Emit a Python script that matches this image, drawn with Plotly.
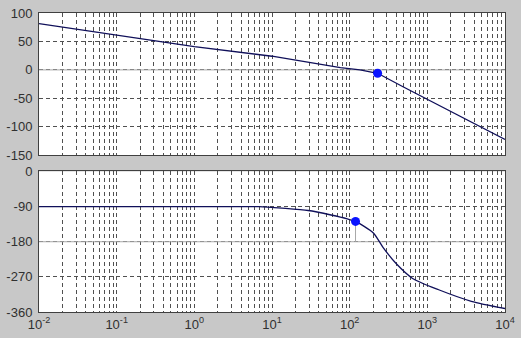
import plotly.graph_objects as go

# ---- data ----
mag_freq = [0.01, 0.1, 1, 10, 30, 76, 136, 229, 500, 1000, 3000, 10000]
mag_db = [81.5, 61, 41, 24, 13.5, 4, 0, -6, -30.5, -51.6, -85, -122.4]

phase_freq = [0.01, 0.1, 1, 4, 6.85, 13.5, 29.3, 57.5, 93.5, 119, 202, 270, 399, 646, 1400, 3690, 10000]
phase_deg = [-90, -90, -90, -90, -90, -94, -100, -111.5, -121.5, -128, -157.5, -195, -236.5, -274, -303, -332.5, -351]

gain_cross_freq = [229]
gain_cross_db = [-6]
phase_mark_freq = [119]
phase_mark_deg = [-128]

x_range_log = [-2, 4]
x_exponents = [-2, -1, 0, 1, 2, 3, 4]
mag_ticks = [-150, -100, -50, 0, 50, 100]
phase_ticks = [-360, -270, -180, -90, 0]

major_x = [10.0 ** d for d in x_exponents]
x_ticktext = ["10<sup>%d</sup>" % d for d in x_exponents]
minor_x = [k * 10.0 ** d for d in x_exponents[:-1] for k in range(2, 10)]

line_col = "#10105a"
grid_col = "#505050"
mark_col = "#0a14ff"
ref_col = "#a8a8a8"

fig = go.Figure()

# reference lines (0 dB, -180 deg)
fig.add_trace(go.Scatter(x=[major_x[0], major_x[-1]], y=[0, 0], mode="lines",
                         line=dict(color=ref_col, width=1), xaxis="x", yaxis="y",
                         hoverinfo="skip", showlegend=False))
fig.add_trace(go.Scatter(x=[major_x[0], major_x[-1]], y=[-180, -180], mode="lines",
                         line=dict(color=ref_col, width=1), xaxis="x2", yaxis="y2",
                         hoverinfo="skip", showlegend=False))
# phase margin vertical line
fig.add_trace(go.Scatter(x=[phase_mark_freq[0], phase_mark_freq[0]], y=[-180, phase_mark_deg[0]],
                         mode="lines", line=dict(color=ref_col, width=1), xaxis="x2", yaxis="y2",
                         hoverinfo="skip", showlegend=False))

fig.add_trace(go.Scatter(x=mag_freq, y=mag_db, mode="lines", line=dict(color=line_col, width=1.3),
                         xaxis="x", yaxis="y", showlegend=False))
fig.add_trace(go.Scatter(x=phase_freq, y=phase_deg, mode="lines",
                         line=dict(color=line_col, width=1.3, shape="spline", smoothing=0.7),
                         xaxis="x2", yaxis="y2", showlegend=False))
fig.add_trace(go.Scatter(x=gain_cross_freq, y=gain_cross_db, mode="markers",
                         marker=dict(color=mark_col, size=9), xaxis="x", yaxis="y", showlegend=False))
fig.add_trace(go.Scatter(x=phase_mark_freq, y=phase_mark_deg, mode="markers",
                         marker=dict(color=mark_col, size=9), xaxis="x2", yaxis="y2", showlegend=False))

font = dict(family="Liberation Sans, Arial, sans-serif", size=13, color="#303030")

def xaxis_cfg(anchor, show_labels):
    return dict(type="log", range=x_range_log, anchor=anchor,
                tickmode="array", tickvals=major_x, ticktext=x_ticktext,
                showticklabels=show_labels, ticks="", tickfont=font,
                ticklabeloverflow="allow",
                showgrid=True, gridcolor=grid_col, griddash="4px,3px", gridwidth=1,
                minor=dict(tickmode="array", tickvals=minor_x, showgrid=True,
                           gridcolor=grid_col, griddash="4px,3px", gridwidth=1, ticks=""),
                showline=True, mirror=True, linecolor="#404040", linewidth=1,
                zeroline=False)

def yaxis_cfg(anchor, rng, ticks, domain):
    return dict(range=rng, anchor=anchor, domain=domain, tickmode="array", tickvals=ticks,
                ticktext=[str(t) for t in ticks],
                ticks="", tickfont=font, showgrid=True, gridcolor=grid_col,
                griddash="4px,3px", gridwidth=1, showline=True, mirror=True,
                linecolor="#404040", linewidth=1, zeroline=False, ticklabelstandoff=3)

fig.update_layout(
    width=521, height=338,
    margin=dict(l=32, r=13, t=6, b=25),
    paper_bgcolor="#c8c8c8", plot_bgcolor="#ffffff",
    xaxis=xaxis_cfg("y", False),
    yaxis=yaxis_cfg("x", [-150, 100], mag_ticks, [0.5244, 1.0]),
    xaxis2=xaxis_cfg("y2", True),
    yaxis2=yaxis_cfg("x2", [-360, 0], phase_ticks, [0.0, 0.470]),
    font=font,
)

fig.write_html("out.html")
